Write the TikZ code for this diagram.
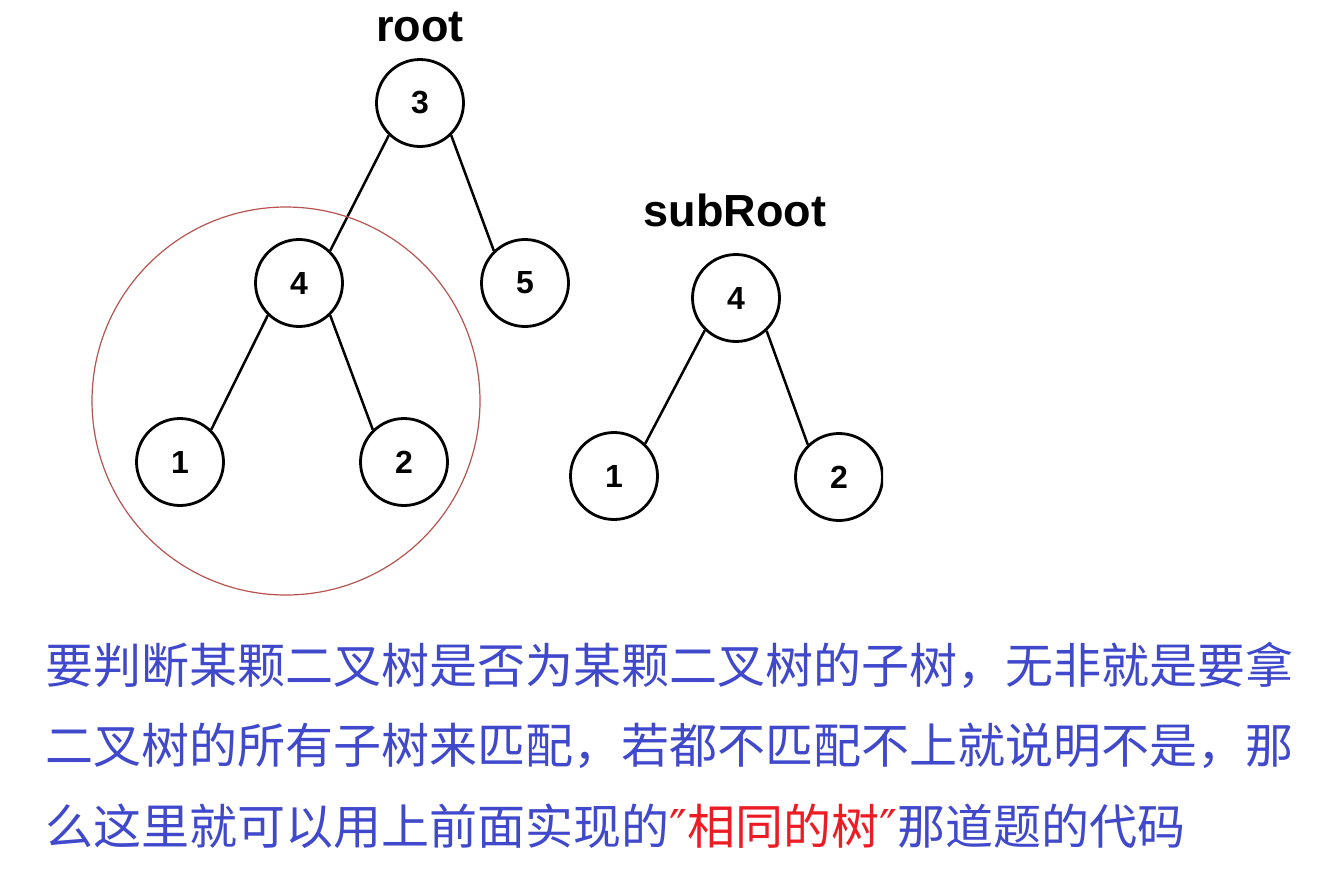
\documentclass[tikz,border=0pt]{standalone}
\usepackage{fontspec}
\setmainfont{Liberation Sans}
\newfontfamily\cjk{Noto Sans CJK SC}
\newfontfamily\djv{DejaVu Sans}
\definecolor{txtblue}{RGB}{64,72,204}
\definecolor{txtred}{RGB}{237,28,36}
\definecolor{ringred}{RGB}{184,84,80}
\begin{document}
\begin{tikzpicture}[x=1pt,y=-1pt,
  treenode/.style={circle,draw=black,line width=2.8pt,minimum size=87pt,inner sep=0pt,
     font=\fontsize{32}{32}\selectfont\bfseries},
  edge/.style={line width=2.5pt,black},
  lbl/.style={font=\fontsize{45}{45}\selectfont\bfseries},
  para/.style={anchor=west,inner sep=0pt,text=txtblue,font=\fontsize{48}{48}\selectfont\cjk}]
\useasboundingbox (0,0) rectangle (1330,876);
\fill[white] (0,0) rectangle (1330,876);
% left tree
\node[lbl] (lroot) at (420,27) {root};
\node[treenode] (n3) at (420,103) {3};
\node[treenode] (n4) at (299,283) {4};
\node[treenode] (n5) at (525,283) {5};
\node[treenode] (n1) at (180,462) {1};
\node[treenode] (n2) at (404,462) {2};
\draw[edge] (n3.226) -- (n4.46);
\draw[edge] (n3.314) -- (n5.134);
\draw[edge] (n4.226) -- (n1.46);
\draw[edge] (n4.314) -- (n2.134);
% highlight ring
\begin{scope}
\clip (0,0) rectangle (1330,595);
\node[circle,draw=ringred,line width=1.2pt,minimum size=388pt,inner sep=0pt] (ring) at (286,401) {};
\end{scope}
% right tree
\node[lbl] (lsub) at (735,210) {subRoot};
\node[treenode] (s4) at (736,298) {4};
\node[treenode] (s1) at (614,476) {1};
\begin{scope}
\clip (0,0) rectangle (883,876);
\node[treenode] (s2) at (839,477) {2};
\end{scope}
\draw[edge] (s4.226) -- (s1.46);
\draw[edge] (s4.313) -- (s2.134);
% paragraph
\node[para] (p1) at (45,665) {要判断某颗二叉树是否为某颗二叉树的子树，无非就是要拿};
\node[para] (p2) at (45,746) {二叉树的所有子树来匹配，若都不匹配不上就说明不是，那};
\node[para] (p3) at (45,826) {么这里就可以用上前面实现的{\color{txtred}\djv ″}{\color{txtred}相同的树}{\color{txtred}\djv ″}那道题的代码};
\end{tikzpicture}
\end{document}
